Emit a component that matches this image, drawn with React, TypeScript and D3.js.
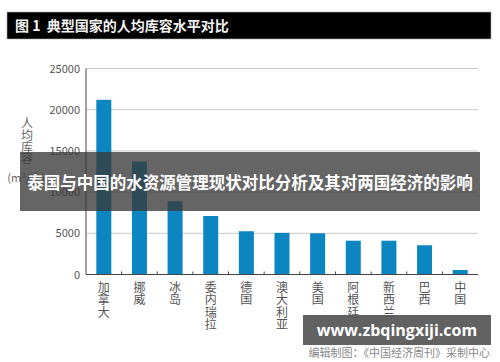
import React, { useEffect, useRef } from 'react';
import * as d3 from 'd3';

const countries = ['加拿大', '挪威', '冰岛', '委内瑞拉', '德国', '澳大利亚', '美国', '阿根廷', '新西兰', '巴西', '中国'];
const capacity = [21200, 13700, 8900, 7100, 5250, 5050, 5000, 4100, 4100, 3550, 550];
const yTicks = [0, 5000, 10000, 15000, 20000, 25000];

const W = 500;
const H = 362;

const App: React.FC = () => {
  const svgRef = useRef<SVGSVGElement>(null);

  useEffect(() => {
    if (!svgRef.current) return;
    const svg = d3.select(svgRef.current);
    svg.selectAll('*').remove();

    const font = '"Noto Sans CJK SC", "Noto Sans", sans-serif';
    const left = 86;
    const right = 478;
    const top = 68.5;
    const bottom = 274.5;

    svg.append('rect').attr('width', W).attr('height', H).attr('fill', '#fff');

    // Title bar
    svg.append('rect')
      .attr('x', 7).attr('y', 12).attr('width', 484).attr('height', 27)
      .attr('fill', '#000').attr('stroke', '#aaa').attr('stroke-width', 0.6);
    svg.append('text')
      .attr('x', 15).attr('y', 31)
      .style('white-space', 'pre')
      .attr('fill', '#f2f2f2').attr('font-family', font).attr('font-weight', 700).attr('font-size', 14)
      .text('图 1  典型国家的人均库容水平对比');

    const x = d3.scaleBand<string>().domain(countries).range([left, right]);
    const y = d3.scaleLinear().domain([0, 25000]).range([bottom, top]);
    const barW = 15;

    // Gridlines
    svg.append('g')
      .selectAll('line')
      .data(yTicks.filter(t => t > 0))
      .join('line')
      .attr('x1', left).attr('x2', right)
      .attr('y1', d => y(d)).attr('y2', d => y(d))
      .attr('stroke', '#c8c8c8').attr('stroke-width', 1);

    // Y tick labels
    svg.append('g')
      .selectAll('text')
      .data(yTicks)
      .join('text')
      .attr('x', 80).attr('y', d => y(d) + 4)
      .attr('text-anchor', 'end')
      .attr('fill', '#555').attr('font-family', font).attr('font-size', 11)
      .text(d => String(d));

    // Bars
    svg.append('g')
      .selectAll('rect')
      .data(countries)
      .join('rect')
      .attr('x', d => (x(d) as number) + x.bandwidth() / 2 - barW / 2)
      .attr('y', (_, i) => y(capacity[i]))
      .attr('width', barW)
      .attr('height', (_, i) => bottom - y(capacity[i]))
      .attr('fill', '#0c86c0');

    // Axes
    svg.append('line')
      .attr('x1', left).attr('x2', left).attr('y1', top).attr('y2', bottom)
      .attr('stroke', '#444').attr('stroke-width', 1);
    svg.append('line')
      .attr('x1', left).attr('x2', right).attr('y1', bottom).attr('y2', bottom)
      .attr('stroke', '#444').attr('stroke-width', 1.2);
    svg.append('g')
      .selectAll('line')
      .data(countries.slice(1))
      .join('line')
      .attr('x1', d => x(d) as number).attr('x2', d => x(d) as number)
      .attr('y1', bottom - 3).attr('y2', bottom)
      .attr('stroke', '#444');

    // Category labels (vertical stacked)
    const cat = svg.append('g')
      .selectAll('g')
      .data(countries)
      .join('g')
      .attr('transform', d => `translate(${(x(d) as number) + x.bandwidth() / 2},0)`);
    cat.each(function (d) {
      const g = d3.select(this);
      d.split('').forEach((ch, j) => {
        g.append('text')
          .attr('x', 0).attr('y', 292 + j * 12.3)
          .attr('text-anchor', 'middle')
          .attr('fill', '#555').attr('font-family', font).attr('font-size', 12)
          .text(ch);
      });
    });

    // Y label
    const yl = ['人', '均', '库', '容'];
    svg.append('g')
      .selectAll('text')
      .data(yl)
      .join('text')
      .attr('x', 27).attr('y', (_, i) => 128 + i * 11.8)
      .attr('text-anchor', 'middle')
      .attr('fill', '#666').attr('font-family', font).attr('font-size', 12)
      .text(d => d);
    svg.append('text')
      .attr('x', 26).attr('y', 182)
      .attr('text-anchor', 'middle')
      .attr('fill', '#666').attr('font-family', font).attr('font-size', 11)
      .text('(m³/人)');

    // Overlay banner
    svg.append('rect')
      .attr('x', 20).attr('y', 152).attr('width', 460).attr('height', 59)
      .attr('fill', '#3a3a3a').attr('fill-opacity', 0.78);
    svg.append('text')
      .attr('x', 250).attr('y', 189)
      .attr('text-anchor', 'middle')
      .attr('fill', '#fff').attr('font-family', font).attr('font-weight', 700).attr('font-size', 16.5)
      .text('泰国与中国的水资源管理现状对比分析及其对两国经济的影响');

    // Source
    svg.append('text')
      .attr('x', 490).attr('y', 357)
      .attr('text-anchor', 'end')
      .attr('fill', '#888').attr('font-family', font).attr('font-size', 11)
      .text('编辑制图：《中国经济周刊》采制中心');

    // Watermark box
    svg.append('rect')
      .attr('x', 303).attr('y', 315).attr('width', 188).attr('height', 30)
      .attr('fill', '#555').attr('fill-opacity', 0.92);
    svg.append('text')
      .attr('x', 397).attr('y', 336)
      .attr('text-anchor', 'middle')
      .attr('fill', '#fff').attr('font-family', '"Open Sans", "DejaVu Sans", sans-serif').attr('font-weight', 700).attr('font-size', 16)
      .text('www.zbqingxiji.com');
  }, []);

  return (
    <svg ref={svgRef} width={W} height={H} style={{ position: 'absolute', left: 0, top: 0, display: 'block' }} />
  );
};

export default App;
